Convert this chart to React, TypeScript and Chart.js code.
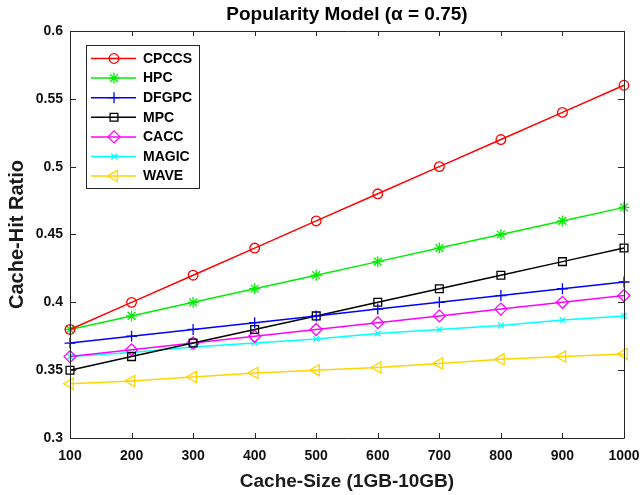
import React, { useEffect, useRef } from 'react';
import { Chart, registerables } from 'chart.js';
import { drawPoint } from 'chart.js/helpers';

Chart.register(...registerables);

const cacheSizes = [100, 200, 300, 400, 500, 600, 700, 800, 900, 1000];
const cpccs = [0.38, 0.4, 0.42, 0.44, 0.46, 0.48, 0.5, 0.52, 0.54, 0.56];
const hpc = [0.38, 0.39, 0.4, 0.41, 0.42, 0.43, 0.44, 0.45, 0.46, 0.47];
const dfgpc = [0.37, 0.375, 0.38, 0.385, 0.39, 0.395, 0.4, 0.405, 0.41, 0.415];
const mpc = [0.35, 0.36, 0.37, 0.38, 0.39, 0.4, 0.41, 0.42, 0.43, 0.44];
const cacc = [0.36, 0.365, 0.37, 0.375, 0.38, 0.385, 0.39, 0.395, 0.4, 0.405];
const magic = [0.36, 0.363, 0.367, 0.37, 0.373, 0.377, 0.38, 0.383, 0.387, 0.39];
const wave = [0.34, 0.342, 0.345, 0.348, 0.35, 0.352, 0.355, 0.358, 0.36, 0.362];

const xTickValues = [100, 200, 300, 400, 500, 600, 700, 800, 900, 1000];
const yTickValues = [0.3, 0.35, 0.4, 0.45, 0.5, 0.55, 0.6];

const titleText = 'Popularity Model (\u03b1 = 0.75)';
const xTitle = 'Cache-Size (1GB-10GB)';
const yTitle = 'Cache-Hit Ratio';

const FONT = "'Liberation Sans', Arial, sans-serif";
const AXIS = '#262626';

type SeriesDef = { label: string; data: number[]; color: string; style: string; radius: number; rotation?: number };

const series: SeriesDef[] = [
  { label: 'CPCCS', data: cpccs, color: '#FF0000', style: 'circle', radius: 4.8 },
  { label: 'HPC', data: hpc, color: '#00EE00', style: 'star', radius: 5.5 },
  { label: 'DFGPC', data: dfgpc, color: '#0000FF', style: 'cross', radius: 5.5 },
  { label: 'MPC', data: mpc, color: '#000000', style: 'rect', radius: 5.5 },
  { label: 'CACC', data: cacc, color: '#FF00FF', style: 'rectRot', radius: 6 },
  { label: 'MAGIC', data: magic, color: '#00FFFF', style: 'crossRot', radius: 4 },
  { label: 'WAVE', data: wave, color: '#FFD400', style: 'triangle', radius: 6.5, rotation: -90 },
];

const titlePlugin = {
  id: 'customTitle',
  afterDraw(chart: any) {
    const { ctx, chartArea } = chart;
    ctx.save();
    ctx.font = `bold 19px ${FONT}`;
    ctx.fillStyle = '#000';
    ctx.textAlign = 'center';
    ctx.textBaseline = 'middle';
    ctx.fillText(titleText, (chartArea.left + chartArea.right) / 2, 15);
    ctx.restore();
  },
};

const framePlugin = {
  id: 'frame',
  afterDatasetsDraw(chart: any) {
    const { ctx, chartArea } = chart;
    const { left, right, top, bottom } = chartArea;
    const xs = chart.scales.x;
    const ys = chart.scales.y;
    ctx.save();
    ctx.strokeStyle = AXIS;
    ctx.lineWidth = 1;
    ctx.beginPath();
    ctx.rect(Math.round(left) + 0.5, Math.round(top) + 0.5, Math.round(right - left), Math.round(bottom - top));
    ctx.stroke();
    ctx.beginPath();
    xTickValues.forEach((v) => {
      const px = Math.round(xs.getPixelForValue(v)) + 0.5;
      ctx.moveTo(px, bottom);
      ctx.lineTo(px, bottom - 5);
      ctx.moveTo(px, top);
      ctx.lineTo(px, top + 5);
    });
    yTickValues.forEach((v) => {
      const py = Math.round(ys.getPixelForValue(v)) + 0.5;
      ctx.moveTo(left, py);
      ctx.lineTo(left + 6, py);
      ctx.moveTo(right, py);
      ctx.lineTo(right - 6, py);
    });
    ctx.stroke();
    ctx.restore();
  },
};

const legendPlugin = {
  id: 'customLegend',
  afterDraw(chart: any) {
    const { ctx } = chart;
    const bx = 86, by = 45, bw = 113, bh = 143;
    ctx.save();
    ctx.fillStyle = '#FFFFFF';
    ctx.fillRect(bx, by, bw, bh);
    ctx.strokeStyle = AXIS;
    ctx.lineWidth = 1;
    ctx.strokeRect(bx + 0.5, by + 0.5, bw, bh);
    series.forEach((s, i) => {
      const cy = 58.5 + i * 19.6;
      ctx.strokeStyle = s.color;
      ctx.lineWidth = 1.5;
      ctx.beginPath();
      ctx.moveTo(91, cy);
      ctx.lineTo(136, cy);
      ctx.stroke();
      ctx.fillStyle = 'rgba(0,0,0,0)';
      ctx.lineWidth = 1.3;
      drawPoint(ctx, { pointStyle: s.style as any, rotation: s.rotation || 0, radius: s.radius, borderWidth: 1.3 }, 114, cy);
      ctx.fillStyle = '#000';
      ctx.font = `bold 14px ${FONT}`;
      ctx.textAlign = 'left';
      ctx.textBaseline = 'middle';
      ctx.fillText(s.label, 143, cy + 0.5);
    });
    ctx.restore();
  },
};

export default function App() {
  const canvasRef = useRef<HTMLCanvasElement | null>(null);

  useEffect(() => {
    if (!canvasRef.current) return;
    const chart = new Chart(canvasRef.current, {
      type: 'line',
      data: {
        datasets: series.map((s) => ({
          label: s.label,
          data: cacheSizes.map((x, i) => ({ x, y: s.data[i] })),
          borderColor: s.color,
          backgroundColor: 'rgba(0,0,0,0)',
          borderWidth: 1.5,
          pointStyle: s.style as any,
          pointRadius: s.radius,
          pointRotation: s.rotation || 0,
          pointBorderColor: s.color,
          pointBackgroundColor: 'rgba(0,0,0,0)',
          pointBorderWidth: 1.3,
          tension: 0,
          clip: false as any,
        })),
      },
      options: {
        animation: false,
        responsive: false,
        maintainAspectRatio: false,
        layout: { padding: { top: 31, right: 18, left: 0, bottom: 0 } },
        plugins: {
          legend: { display: false },
          title: { display: false },
          tooltip: { enabled: false },
        },
        scales: {
          x: {
            type: 'linear',
            min: 100,
            max: 1000,
            afterBuildTicks: (scale: any) => {
              scale.ticks = xTickValues.map((v) => ({ value: v }));
            },
            afterFit: (scale: any) => {
              scale.height = 57;
              scale.paddingLeft = 0;
              scale.paddingRight = 0;
            },
            grid: { display: false, drawTicks: false, tickLength: 0 },
            border: { display: false },
            ticks: {
              padding: 10,
              color: '#111',
              font: { family: FONT, size: 14, weight: 'bold' },
              maxRotation: 0,
              autoSkip: false,
              callback: (v: any) => String(v),
            },
            title: {
              display: true,
              text: xTitle,
              color: '#1a1a1a',
              font: { family: FONT, size: 19, weight: 'bold' },
              padding: { top: 0, bottom: 2 },
            },
          },
          y: {
            type: 'linear',
            min: 0.3,
            max: 0.6,
            afterBuildTicks: (scale: any) => {
              scale.ticks = yTickValues.map((v) => ({ value: v }));
            },
            afterFit: (scale: any) => {
              scale.width = 70;
              scale.paddingTop = 0;
              scale.paddingBottom = 0;
            },
            grid: { display: false, drawTicks: false, tickLength: 0 },
            border: { display: false },
            ticks: {
              padding: 7,
              color: '#111',
              font: { family: FONT, size: 14, weight: 'bold' },
              autoSkip: false,
              callback: (v: any) => String(Number(Number(v).toFixed(2))),
            },
            title: {
              display: true,
              text: yTitle,
              color: '#1a1a1a',
              font: { family: FONT, size: 20, weight: 'bold' },
              padding: { top: 5, bottom: 0 },
            },
          },
        },
      } as any,
      plugins: [framePlugin, titlePlugin, legendPlugin],
    });
    return () => chart.destroy();
  }, []);

  return (
    <div style={{ position: 'fixed', left: 0, top: 0, width: 642, height: 495, background: '#fff' }}>
      <canvas ref={canvasRef} width={642} height={495} style={{ width: 642, height: 495 }} />
    </div>
  );
}
